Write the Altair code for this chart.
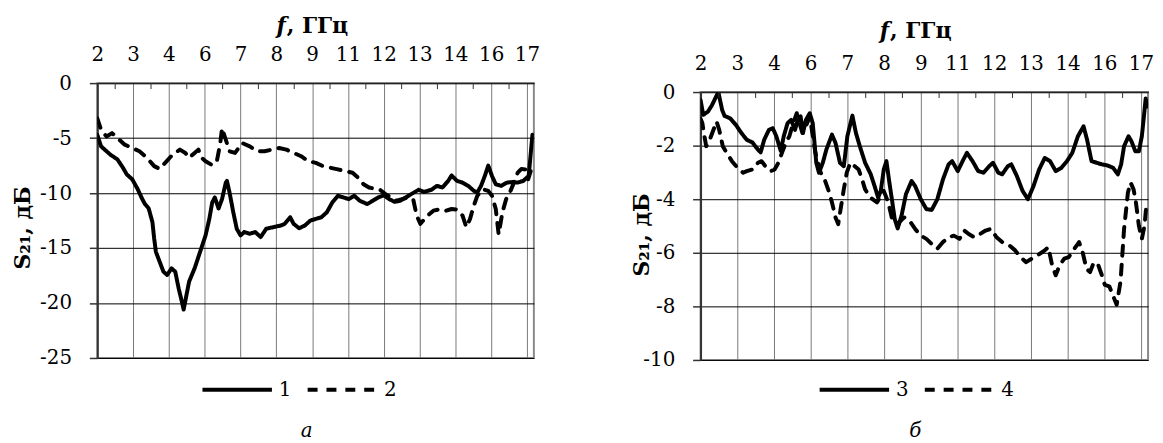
import json
import altair as alt
import pandas as pd

FONT = "DejaVu Serif"

# ---------------- data: panel "а" ----------------
A1_F = [2.00,2.13,2.45,2.70,2.89,3.02,3.21,3.40,3.53,3.65,3.78,3.91,3.97,4.03,4.16,4.29,4.42,4.57,4.70,4.82,4.93,4.99,5.18,5.37,5.56,5.75,5.88,5.98,6.07,6.20,6.32,6.45,6.49,6.58,6.71,6.83,6.96,7.09,7.28,7.47,7.66,7.85,8.10,8.36,8.49,8.68,8.80,8.99,9.19,9.38,9.57,9.76,9.95,10.14,10.33,10.52,10.71,10.90,11.09,11.35,11.54,11.73,11.92,12.11,12.30,12.49,12.68,12.87,13.13,13.32,13.57,13.76,13.95,14.15,14.27,14.46,14.65,14.85,15.04,15.16,15.29,15.42,15.54,15.67,15.80,15.99,16.18,16.37,16.56,16.75,16.94,17.07]
A1_V = [-4.7,-5.75,-6.5,-6.95,-7.7,-8.3,-8.75,-9.65,-10.4,-11.0,-11.4,-12.65,-14.15,-15.35,-16.25,-17.15,-17.45,-16.85,-17.15,-18.7,-19.9,-20.6,-18.05,-16.85,-15.35,-13.85,-12.35,-10.85,-10.4,-11.4,-10.55,-9.05,-8.9,-9.95,-11.75,-13.25,-13.85,-13.55,-13.7,-13.55,-14.0,-13.25,-13.1,-12.95,-12.8,-12.2,-12.8,-13.2,-12.95,-12.5,-12.35,-12.2,-11.75,-10.85,-10.25,-10.4,-10.55,-10.25,-10.7,-11.0,-10.7,-10.4,-10.2,-10.55,-10.8,-10.7,-10.4,-10.1,-9.7,-9.9,-9.7,-9.35,-9.5,-8.9,-8.4,-8.9,-9.05,-9.35,-9.8,-9.95,-9.35,-8.45,-7.5,-8.45,-9.2,-9.35,-9.05,-9.0,-9.05,-8.9,-8.45,-4.7]

A2_F = [2.00,2.13,2.32,2.51,2.70,2.95,3.21,3.46,3.72,3.97,4.16,4.35,4.61,4.86,5.05,5.18,5.37,5.50,5.62,5.75,5.94,6.13,6.26,6.32,6.45,6.58,6.77,7.02,7.28,7.53,7.79,8.04,8.30,8.55,8.80,9.06,9.31,9.57,9.82,10.08,10.33,10.58,10.84,11.03,11.22,11.41,11.60,11.79,11.98,12.17,12.37,12.56,12.75,12.94,13.06,13.19,13.38,13.64,13.89,14.08,14.27,14.46,14.65,14.78,14.91,15.04,15.16,15.35,15.54,15.67,15.80,15.90,16.03,16.16,16.31,16.43,16.56,16.69,16.82,16.92,17.01,17.07]
A2_V = [-3.2,-4.25,-4.85,-4.55,-5.0,-5.6,-5.9,-6.2,-6.8,-7.55,-7.8,-7.25,-6.5,-6.05,-6.35,-6.8,-6.35,-6.05,-6.8,-7.1,-7.4,-7.25,-5.45,-4.1,-5.15,-6.2,-6.35,-5.45,-5.75,-6.2,-6.2,-6.05,-5.9,-6.05,-6.35,-6.65,-7.1,-7.25,-7.55,-7.7,-7.85,-8.0,-8.15,-8.6,-9.2,-9.5,-9.6,-9.7,-10.1,-10.4,-10.7,-10.55,-10.4,-10.55,-12.05,-12.8,-12.2,-11.6,-11.45,-11.6,-11.45,-11.5,-12.05,-13.1,-12.35,-11.15,-10.25,-9.65,-9.8,-10.25,-11.45,-13.75,-11.75,-10.55,-9.8,-9.05,-8.15,-7.8,-7.85,-8.75,-8.0,-7.85]

# ---------------- data: panel "б" ----------------
B3_F = [2.00,2.09,2.25,2.38,2.60,2.73,2.81,3.00,3.19,3.38,3.56,3.75,3.94,4.03,4.15,4.31,4.44,4.56,4.71,4.81,4.94,5.06,5.19,5.29,5.38,5.46,5.56,5.69,5.79,5.91,6.00,6.13,6.25,6.44,6.56,6.71,6.84,6.96,7.13,7.25,7.38,7.56,7.75,7.88,8.00,8.09,8.19,8.28,8.38,8.48,8.56,8.66,8.79,8.94,9.13,9.25,9.44,9.63,9.81,10.00,10.19,10.38,10.50,10.69,10.88,11.00,11.19,11.38,11.56,11.75,11.88,12.06,12.19,12.38,12.50,12.69,12.88,13.06,13.25,13.44,13.63,13.81,14.00,14.19,14.38,14.56,14.75,14.94,15.06,15.21,15.38,15.56,15.75,15.94,16.10,16.21,16.31,16.46,16.56,16.69,16.81,16.91,16.98,17.04,17.09]
B3_V = [-0.3,-0.85,-0.73,-0.5,0.0,-0.67,-0.89,-0.98,-1.22,-1.53,-1.78,-1.88,-2.15,-2.25,-1.78,-1.41,-1.35,-1.65,-2.2,-1.65,-1.16,-1.04,-1.41,-1.04,-0.91,-1.53,-1.04,-0.79,-1.16,-2.64,-3.01,-2.64,-2.15,-1.59,-1.9,-2.64,-2.77,-1.65,-0.88,-1.53,-2.02,-2.64,-3.07,-3.51,-3.94,-3.69,-2.89,-2.58,-3.38,-4.12,-4.74,-5.09,-4.62,-3.81,-3.32,-3.51,-4.0,-4.37,-4.4,-4.0,-3.26,-2.7,-2.58,-2.95,-2.52,-2.27,-2.58,-2.95,-3.01,-2.77,-2.64,-3.01,-3.07,-2.77,-2.7,-3.14,-3.69,-4.0,-3.51,-2.89,-2.46,-2.58,-2.95,-2.83,-2.58,-2.27,-1.65,-1.28,-1.78,-2.58,-2.64,-2.7,-2.74,-2.83,-3.07,-2.7,-2.02,-1.65,-1.84,-2.21,-2.21,-1.65,-0.91,-0.24,-0.54]

B4_F = [2.00,2.06,2.13,2.19,2.31,2.54,2.63,2.75,2.88,3.06,3.25,3.44,3.56,3.75,3.94,4.06,4.19,4.38,4.50,4.63,4.75,4.88,5.00,5.13,5.25,5.31,5.44,5.56,5.69,5.88,6.06,6.19,6.31,6.44,6.56,6.65,6.75,6.84,6.94,7.06,7.21,7.34,7.44,7.56,7.69,7.81,7.96,8.09,8.19,8.34,8.46,8.59,8.71,8.88,9.06,9.25,9.44,9.63,9.81,10.00,10.19,10.38,10.56,10.75,10.91,11.06,11.25,11.44,11.63,11.81,12.00,12.19,12.44,12.63,12.81,13.00,13.19,13.38,13.63,13.75,13.88,14.00,14.13,14.29,14.44,14.63,14.79,14.91,15.04,15.16,15.29,15.44,15.56,15.66,15.81,16.06,16.19,16.31,16.44,16.53,16.63,16.71,16.81,16.91,17.00,17.06,17.09]
B4_V = [-1.0,-1.16,-1.65,-2.02,-1.78,-1.1,-1.41,-2.02,-2.27,-2.58,-2.83,-3.01,-2.95,-2.89,-2.64,-2.58,-2.77,-2.95,-2.89,-2.64,-2.27,-1.9,-1.65,-1.16,-0.79,-1.04,-1.53,-1.28,-0.91,-2.27,-3.01,-3.26,-3.63,-4.12,-4.68,-4.93,-4.25,-3.63,-3.01,-2.64,-2.77,-2.89,-3.2,-3.63,-3.88,-4.0,-4.12,-3.88,-3.69,-4.12,-4.68,-4.93,-4.86,-4.68,-4.8,-5.11,-5.36,-5.48,-5.67,-5.85,-5.6,-5.42,-5.36,-5.48,-5.17,-5.3,-5.42,-5.3,-5.17,-5.11,-5.42,-5.6,-5.73,-5.91,-6.16,-6.35,-6.22,-6.1,-5.91,-5.79,-6.47,-6.84,-6.47,-6.22,-6.16,-5.85,-5.6,-5.98,-6.6,-6.72,-6.35,-6.47,-6.84,-7.2,-7.25,-7.94,-7.07,-5.11,-3.75,-3.38,-3.63,-4.12,-4.99,-5.48,-4.99,-4.25,-4.37]

# ---------------- axes ----------------
X_DOMAIN = [2.0, 17.12]
X_STEP = 1.24
TICK_POS = [2.0, 3.24, 4.48, 5.72, 6.96, 8.2, 9.44, 10.68, 11.92, 13.16, 14.4, 15.64, 16.88]
TICK_LABELS = ["2", "3", "4", "6", "7", "8", "9", "11", "12", "13", "14", "16", "17"]
MID_TICKS = [2.62, 3.86, 5.10, 6.34, 7.58, 8.82, 10.06, 11.30, 12.54, 13.78, 15.02, 16.26]
A_Y_DOMAIN = [-25, 0]
A_Y_TICKS = [0, -5, -10, -15, -20, -25]
B_Y_DOMAIN = [-10, 0]
B_Y_TICKS = [0, -2, -4, -6, -8, -10]

X_TITLE_F = "f"
X_TITLE_REST = ", ГГц"
Y_TITLE = "S₂₁, дБ"

XLABEL_EXPR = f"{json.dumps(TICK_LABELS)}[round((datum.value - {X_DOMAIN[0]}) / {X_STEP})]"


def series_df(pairs):
    rows = []
    for name, fs, vs in pairs:
        for f, v in zip(fs, vs):
            rows.append({"f": f, "v": v, "s": name})
    return pd.DataFrame(rows)


def one(text):
    return pd.DataFrame({"t": [text]})


X_AXIS = alt.Axis(
    orient="top", values=TICK_POS, labelExpr=XLABEL_EXPR, title=None,
    grid=True, gridColor="#7a7a7a", gridWidth=1,
    ticks=False, tickSize=0, domain=True, domainColor="#222", domainWidth=1.5,
    labelFont=FONT, labelFontSize=20, labelColor="black", labelPadding=19,
    labelFlush=False, labelOverlap=False, labelBound=False,
)


def panel(df, names, y_dom, y_ticks, w, h, caption, title_y, ytitle_xy, leg_xy, cap_y, markers):
    xscale = alt.Scale(domain=X_DOMAIN, nice=False, zero=False)
    yenc = alt.Y(
        "v:Q",
        scale=alt.Scale(domain=y_dom, nice=False, zero=False),
        axis=alt.Axis(
            values=y_ticks, labelExpr="'' + datum.value", title=None,
            grid=True, gridColor="black", gridWidth=1,
            ticks=True, tickSize=8, tickColor="#333", tickWidth=1.5,
            domain=True, domainColor="#333", domainWidth=2,
            labelFont=FONT, labelFontSize=20, labelColor="black", labelPadding=18,
            labelOverlap=False,
        ),
    )
    lines = alt.Chart(df).mark_line(
        color="black", strokeWidth=4, strokeCap="round", strokeJoin="round", clip=True
    ).encode(
        x=alt.X("f:Q", scale=xscale, axis=X_AXIS),
        y=yenc,
        strokeDash=alt.StrokeDash(
            "s:N",
            scale=alt.Scale(domain=names, range=[[1, 0], [10, 9]]),
            legend=alt.Legend(
                orient="none", legendX=leg_xy[0], legendY=leg_xy[1], direction="horizontal",
                title=None, symbolType="stroke", symbolSize=4900, symbolStrokeWidth=4,
                symbolStrokeColor="black", labelFont=FONT, labelFontSize=20,
                labelColor="black", labelOffset=5, columnPadding=8, padding=0,
            ),
        ),
        detail="s:N",
    )
    mid = alt.Chart(pd.DataFrame({"f": MID_TICKS})).mark_rule(color="#333", strokeWidth=1).encode(
        x=alt.X("f:Q", scale=xscale, axis=X_AXIS), y=alt.value(0), y2=alt.value(6)
    )
    tf = alt.Chart(one(X_TITLE_F)).mark_text(
        font=FONT, fontSize=22, fontWeight="bold", fontStyle="italic", align="right", baseline="alphabetic"
    ).encode(text="t:N", x=alt.value(190), y=alt.value(title_y))
    tr = alt.Chart(one(X_TITLE_REST)).mark_text(
        font=FONT, fontSize=22, fontWeight="bold", align="left", baseline="alphabetic"
    ).encode(text="t:N", x=alt.value(191), y=alt.value(title_y))
    yt = alt.Chart(one(Y_TITLE)).mark_text(
        font=FONT, fontSize=22, fontWeight="bold", angle=270, align="center", baseline="middle"
    ).encode(text="t:N", x=alt.value(ytitle_xy[0]), y=alt.value(ytitle_xy[1]))
    cap = alt.Chart(one(caption)).mark_text(
        font=FONT, fontSize=20, fontStyle="italic", align="center", baseline="alphabetic"
    ).encode(text="t:N", x=alt.value(w / 2 - 9), y=alt.value(cap_y))
    layers = [lines, mid, tf, tr, yt, cap]
    for (mx, my, al, bl) in markers:
        layers.append(
            alt.Chart(one(".")).mark_text(fontSize=1, opacity=0, align=al, baseline=bl).encode(
                text="t:N", x=alt.value(mx), y=alt.value(my)
            )
        )
    return alt.layer(*layers).properties(width=w, height=h)


def spacer():
    return alt.Chart(one(".")).mark_text(fontSize=1, opacity=0).encode(
        text="t:N", x=alt.value(0), y=alt.value(0)
    ).properties(width=1, height=1, view=alt.ViewBackground(stroke="transparent", strokeWidth=0))


left = panel(
    series_df([("1", A1_F, A1_V), ("2", A2_F, A2_V)]), ["1", "2"], A_Y_DOMAIN, A_Y_TICKS,
    440, 277, "а", -51, (-75, 146), (104, 345), 357,
    [(-89, -71, "left", "top"), (470, 0, "right", "middle")],
)
right = panel(
    series_df([("3", B3_F, B3_V), ("4", B4_F, B4_V)]), ["3", "4"], B_Y_DOMAIN, B_Y_TICKS,
    451, 270, "б", -54, (-59, 144), (118, 345), 348,
    [(-136, -80, "left", "top")],
)

chart = (
    alt.hconcat(
        alt.vconcat(spacer(), left, spacing=0),
        alt.vconcat(spacer(), right, spacing=0),
        spacing=0,
    )
    .resolve_scale(x="independent", y="independent", strokeDash="independent")
    .resolve_legend(strokeDash="independent")
    .properties(padding=0)
    .configure_view(stroke="#8a8a8a", strokeWidth=2)
)

chart.save("out.html", embed_options={"renderer": "svg", "actions": False})
